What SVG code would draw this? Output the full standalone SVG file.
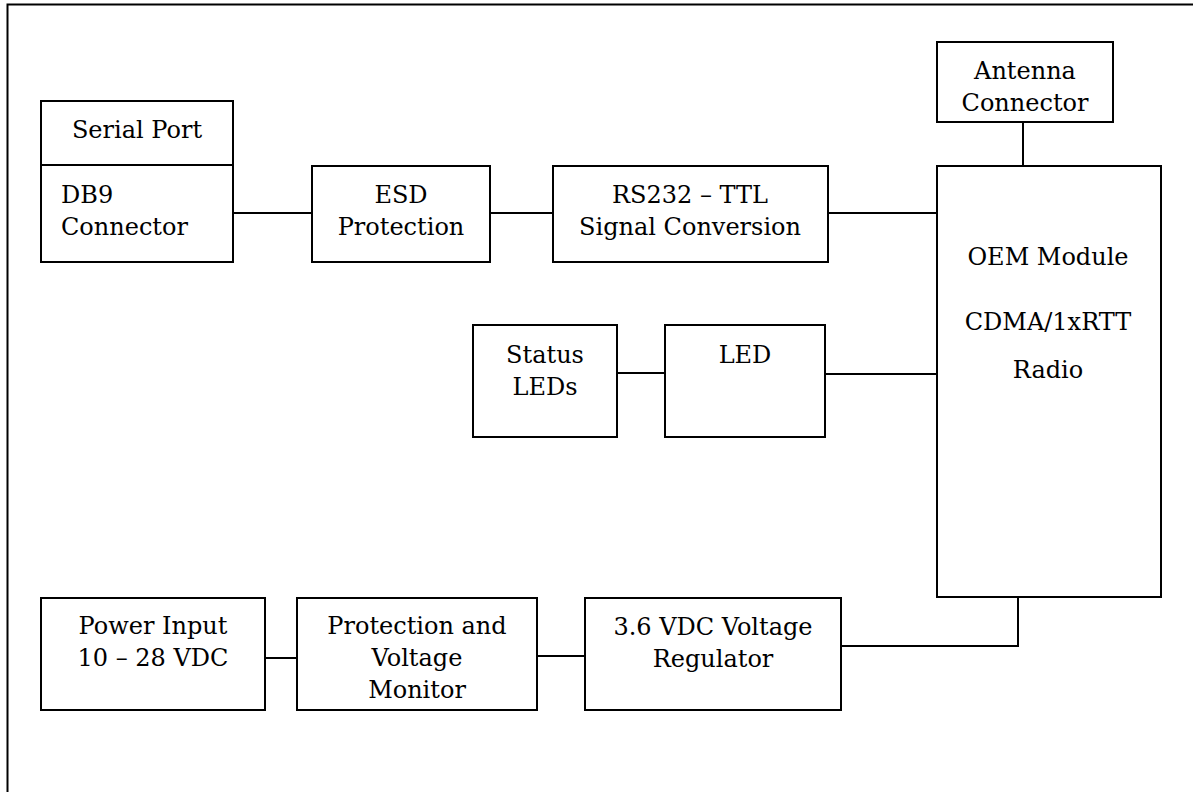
<svg xmlns="http://www.w3.org/2000/svg" width="1193" height="792" viewBox="0 0 1193 792">
<style>
.box{fill:#fff;stroke:#000;stroke-width:2}
.ln{fill:none;stroke:#000;stroke-width:2}
text{font-family:"DejaVu Serif","Liberation Serif",serif;font-size:24px;fill:#000}
.c{text-anchor:middle}
</style>
<rect width="1193" height="792" fill="#fff"/>
<path class="ln" d="M7.5,792 V4.5 H1193"/>
<g id="connectors">
<line class="ln" x1="233" y1="213" x2="312" y2="213"/>
<line class="ln" x1="490" y1="213" x2="553" y2="213"/>
<line class="ln" x1="828" y1="213" x2="937" y2="213"/>
<line class="ln" x1="1023" y1="122" x2="1023" y2="171"/>
<line class="ln" x1="617" y1="373" x2="665" y2="373"/>
<line class="ln" x1="825" y1="374" x2="937" y2="374"/>
<line class="ln" x1="265" y1="658" x2="297" y2="658"/>
<line class="ln" x1="537" y1="656" x2="585" y2="656"/>
<path class="ln" d="M841,646 H1018 V597"/>
</g>
<g id="serial-port">
<rect class="box" x="41" y="101" width="192" height="64"/>
<text class="c" x="137" y="138">Serial Port</text>
</g>
<g id="db9">
<rect class="box" x="41" y="165" width="192" height="97"/>
<text x="61" y="203">DB9</text>
<text x="61" y="235">Connector</text>
</g>
<g id="esd">
<rect class="box" x="312" y="166" width="178" height="96"/>
<text class="c" x="401" y="203">ESD</text>
<text class="c" x="401" y="235">Protection</text>
</g>
<g id="rs232">
<rect class="box" x="553" y="166" width="275" height="96"/>
<text class="c" x="690" y="203">RS232 – TTL</text>
<text class="c" x="690" y="235">Signal Conversion</text>
</g>
<g id="antenna">
<rect class="box" x="937" y="42" width="176" height="80"/>
<text class="c" x="1025" y="79">Antenna</text>
<text class="c" x="1025" y="111">Connector</text>
</g>
<g id="oem">
<rect class="box" x="937" y="166" width="224" height="431"/>
<text class="c" x="1048" y="265">OEM Module</text>
<text class="c" x="1048" y="330">CDMA/1xRTT</text>
<text class="c" x="1048" y="378">Radio</text>
</g>
<g id="status-leds">
<rect class="box" x="473" y="325" width="144" height="112"/>
<text class="c" x="545" y="363">Status</text>
<text class="c" x="545" y="395">LEDs</text>
</g>
<g id="led">
<rect class="box" x="665" y="325" width="160" height="112"/>
<text class="c" x="745" y="363">LED</text>
</g>
<g id="power-input">
<rect class="box" x="41" y="598" width="224" height="112"/>
<text class="c" x="153" y="634">Power Input</text>
<text class="c" x="153" y="666">10 – 28 VDC</text>
</g>
<g id="protection">
<rect class="box" x="297" y="598" width="240" height="112"/>
<text class="c" x="417" y="634">Protection and</text>
<text class="c" x="417" y="666">Voltage</text>
<text class="c" x="417" y="698">Monitor</text>
</g>
<g id="regulator">
<rect class="box" x="585" y="598" width="256" height="112"/>
<text class="c" x="713" y="635">3.6 VDC Voltage</text>
<text class="c" x="713" y="667">Regulator</text>
</g>
</svg>
